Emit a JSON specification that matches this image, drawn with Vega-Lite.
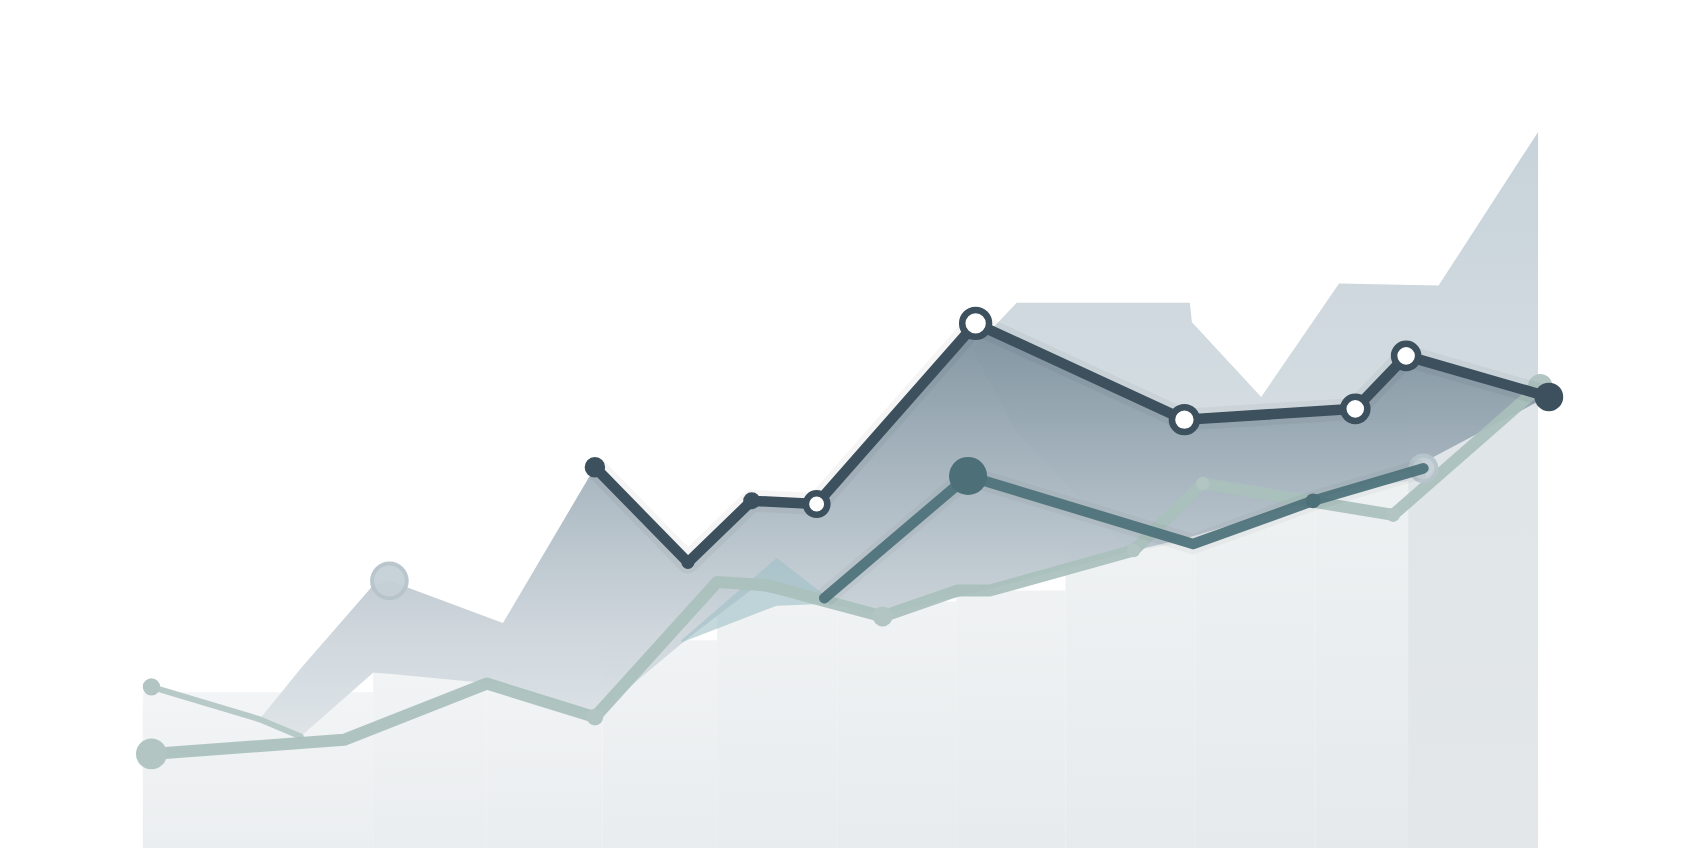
{
  "$schema": "https://vega.github.io/schema/vega-lite/v6.json",
  "width": 1696,
  "height": 848,
  "autosize": {"type": "fit", "contains": "padding"},
  "padding": 0,
  "background": "#ffffff",
  "config": {"view": {"stroke": null}, "axis": {"disable": true}},
  "datasets": {
    "bars": [
      {"x0": 132, "x1": 345, "top": 640},
      {"x0": 345, "x1": 450, "top": 622},
      {"x0": 450, "x1": 557, "top": 632},
      {"x0": 557, "x1": 663, "top": 592},
      {"x0": 663, "x1": 774, "top": 540},
      {"x0": 774, "x1": 884, "top": 556},
      {"x0": 884, "x1": 985, "top": 546},
      {"x0": 985, "x1": 1105, "top": 500},
      {"x0": 1105, "x1": 1216, "top": 450},
      {"x0": 1216, "x1": 1317, "top": 440},
      {"x0": 1317, "x1": 1420, "top": 360}
    ],
    "mountain": [
      {"x": 900, "y": 322, "base": 326},
      {"x": 940, "y": 280, "base": 400},
      {"x": 1045, "y": 280, "base": 510},
      {"x": 1100, "y": 280, "base": 500},
      {"x": 1102, "y": 298, "base": 500},
      {"x": 1166, "y": 367, "base": 470},
      {"x": 1238, "y": 262, "base": 455},
      {"x": 1330, "y": 264, "base": 440},
      {"x": 1422, "y": 122, "base": 360}
    ],
    "lightbar": [{"x0": 1302, "x1": 1422, "top": 359}],
    "band": [
      {"x": 240, "top": 665, "bottom": 667},
      {"x": 278, "top": 618, "bottom": 681},
      {"x": 345, "top": 541, "bottom": 622},
      {"x": 360, "top": 537, "bottom": 623},
      {"x": 465, "top": 576, "bottom": 633},
      {"x": 550, "top": 432, "bottom": 662},
      {"x": 636, "top": 520, "bottom": 590},
      {"x": 695, "top": 463, "bottom": 545},
      {"x": 755, "top": 465, "bottom": 556},
      {"x": 816, "top": 397, "bottom": 568},
      {"x": 902, "top": 299, "bottom": 548},
      {"x": 1048, "top": 367, "bottom": 509},
      {"x": 1095, "top": 388, "bottom": 498},
      {"x": 1214, "top": 380, "bottom": 463},
      {"x": 1253, "top": 378, "bottom": 450},
      {"x": 1300, "top": 329, "bottom": 436},
      {"x": 1428, "top": 365, "bottom": 368}
    ],
    "tri": [
      {"x": 630, "top": 592, "bottom": 594},
      {"x": 718, "top": 516, "bottom": 560},
      {"x": 770, "top": 556, "bottom": 558}
    ],
    "thin": [
      {"x": 140, "y": 635},
      {"x": 240, "y": 665},
      {"x": 278, "y": 681}
    ],
    "sage": [
      {"x": 140, "y": 697},
      {"x": 318, "y": 684},
      {"x": 450, "y": 632},
      {"x": 550, "y": 663},
      {"x": 663, "y": 538},
      {"x": 709, "y": 541},
      {"x": 764, "y": 556},
      {"x": 816, "y": 570},
      {"x": 885, "y": 546},
      {"x": 915, "y": 546},
      {"x": 1048, "y": 509},
      {"x": 1112, "y": 447},
      {"x": 1288, "y": 476},
      {"x": 1424, "y": 357}
    ],
    "sagedots": [
      {"x": 140, "y": 697, "s": 950},
      {"x": 140, "y": 635, "s": 300},
      {"x": 550, "y": 663, "s": 280},
      {"x": 816, "y": 570, "s": 400},
      {"x": 1048, "y": 509, "s": 180},
      {"x": 1112, "y": 447, "s": 180},
      {"x": 1288, "y": 476, "s": 200},
      {"x": 1424, "y": 357, "s": 600}
    ],
    "faded": [
      {"x": 360, "y": 537, "s": 1200},
      {"x": 1316, "y": 433, "s": 660}
    ],
    "teal": [
      {"x": 762, "y": 553},
      {"x": 895, "y": 440},
      {"x": 1103, "y": 503},
      {"x": 1214, "y": 463},
      {"x": 1316, "y": 433}
    ],
    "tealdots": [
      {"x": 895, "y": 440, "s": 1450},
      {"x": 1214, "y": 463, "s": 220}
    ],
    "dark": [
      {"x": 550, "y": 432},
      {"x": 636, "y": 520},
      {"x": 695, "y": 463},
      {"x": 755, "y": 466},
      {"x": 902, "y": 299},
      {"x": 1095, "y": 388},
      {"x": 1253, "y": 378},
      {"x": 1300, "y": 329},
      {"x": 1432, "y": 367}
    ],
    "darkfilled": [
      {"x": 550, "y": 432, "s": 420},
      {"x": 636, "y": 520, "s": 170},
      {"x": 695, "y": 463, "s": 290},
      {"x": 1432, "y": 367, "s": 820}
    ],
    "darkopen": [
      {"x": 755, "y": 466, "s": 460},
      {"x": 902, "y": 299, "s": 720},
      {"x": 1095, "y": 388, "s": 620},
      {"x": 1253, "y": 378, "s": 580},
      {"x": 1300, "y": 329, "s": 580}
    ]
  },
  "layer": [
    {
      "data": {"name": "bars"},
      "mark": {"type": "rect", "fill": {"gradient": "linear", "x1": 0, "y1": 0, "x2": 0, "y2": 1, "stops": [{"offset": 0, "color": "#eef1f2"}, {"offset": 1, "color": "#e5e9eb"}]}},
      "encoding": {
        "x": {"field": "x0", "type": "quantitative", "scale": {"domain": [0, 1568], "nice": false, "zero": false}, "axis": null},
        "x2": {"field": "x1"},
        "y": {"field": "top", "type": "quantitative", "scale": {"domain": [0, 784], "reverse": true, "nice": false, "zero": false}, "axis": null},
        "y2": {"datum": 784},
        "opacity": {"field": "x0", "type": "quantitative", "scale": {"domain": [132, 1317], "range": [0.75, 1]}, "legend": null}
      }
    },
    {
      "data": {"name": "mountain"},
      "mark": {"type": "area", "fill": {"gradient": "linear", "x1": 0, "y1": 0, "x2": 0, "y2": 1, "stops": [{"offset": 0, "color": "#c7d3da"}, {"offset": 0.6, "color": "#d2dbe0"}, {"offset": 1, "color": "#e2e7ea"}]}},
      "encoding": {
        "x": {"field": "x", "type": "quantitative"},
        "y": {"field": "y", "type": "quantitative"},
        "y2": {"field": "base"}
      }
    },
    {
      "data": {"name": "lightbar"},
      "mark": {"type": "rect", "fill": {"gradient": "linear", "x1": 0, "y1": 0, "x2": 0, "y2": 1, "stops": [{"offset": 0, "color": "#dfe5e8"}, {"offset": 1, "color": "#e3e7e9"}]}},
      "encoding": {
        "x": {"field": "x0", "type": "quantitative"},
        "x2": {"field": "x1"},
        "y": {"field": "top", "type": "quantitative"},
        "y2": {"datum": 784}
      }
    },
    {
      "data": {"name": "band"},
      "mark": {"type": "area", "opacity": 0.95, "fill": {"gradient": "linear", "x1": 0, "y1": 0, "x2": 0, "y2": 1, "stops": [{"offset": 0, "color": "#7c909d"}, {"offset": 0.45, "color": "#aebbc4"}, {"offset": 0.75, "color": "#cdd5db"}, {"offset": 1, "color": "#dde3e7"}]}},
      "encoding": {
        "x": {"field": "x", "type": "quantitative"},
        "y": {"field": "top", "type": "quantitative"},
        "y2": {"field": "bottom"}
      }
    },
    {
      "data": {"name": "tri"},
      "mark": {"type": "area", "fill": "#9ec0c6", "opacity": 0.6},
      "encoding": {
        "x": {"field": "x", "type": "quantitative"},
        "y": {"field": "top", "type": "quantitative"},
        "y2": {"field": "bottom"}
      }
    },
    {
      "data": {"name": "thin"},
      "mark": {"type": "line", "stroke": "#b8cac7", "strokeWidth": 6, "strokeCap": "round"},
      "encoding": {
        "x": {"field": "x", "type": "quantitative"},
        "y": {"field": "y", "type": "quantitative"}
      }
    },
    {
      "data": {"name": "sage"},
      "mark": {"type": "line", "stroke": "#a9c0bc", "strokeWidth": 12, "strokeJoin": "round", "strokeCap": "round", "opacity": 0.92},
      "encoding": {
        "x": {"field": "x", "type": "quantitative"},
        "y": {"field": "y", "type": "quantitative"}
      }
    },
    {
      "data": {"name": "sagedots"},
      "mark": {"type": "point", "shape": "circle", "filled": true, "fill": "#b2c5c2", "opacity": 1, "strokeWidth": 0},
      "encoding": {
        "x": {"field": "x", "type": "quantitative"},
        "y": {"field": "y", "type": "quantitative"},
        "size": {"field": "s", "type": "quantitative", "scale": {"type": "linear", "domain": [0, 1000], "range": [0, 1000]}, "legend": null}
      }
    },
    {
      "data": {"name": "faded"},
      "mark": {"type": "point", "shape": "circle", "filled": true, "fill": "#c6d0d7", "stroke": "#b7c4cc", "strokeWidth": 4, "opacity": 0.95},
      "encoding": {
        "x": {"field": "x", "type": "quantitative"},
        "y": {"field": "y", "type": "quantitative"},
        "size": {"field": "s", "type": "quantitative", "scale": {"type": "linear", "domain": [0, 1000], "range": [0, 1000]}, "legend": null}
      }
    },
    {
      "data": {"name": "teal"},
      "mark": {"type": "line", "stroke": "#000000", "strokeWidth": 20, "strokeJoin": "round", "opacity": 0.03},
      "encoding": {
        "x": {"field": "x", "type": "quantitative"},
        "y": {"field": "y", "type": "quantitative"}
      }
    },
    {
      "data": {"name": "teal"},
      "mark": {"type": "line", "stroke": "#4f737b", "strokeWidth": 10.5, "strokeJoin": "round", "strokeCap": "round", "opacity": 0.95},
      "encoding": {
        "x": {"field": "x", "type": "quantitative"},
        "y": {"field": "y", "type": "quantitative"}
      }
    },
    {
      "data": {"name": "tealdots"},
      "mark": {"type": "point", "shape": "circle", "filled": true, "fill": "#4c6f78", "opacity": 1, "strokeWidth": 0},
      "encoding": {
        "x": {"field": "x", "type": "quantitative"},
        "y": {"field": "y", "type": "quantitative"},
        "size": {"field": "s", "type": "quantitative", "scale": {"type": "linear", "domain": [0, 1000], "range": [0, 1000]}, "legend": null}
      }
    },
    {
      "data": {"name": "dark"},
      "mark": {"type": "line", "stroke": "#000000", "strokeWidth": 22, "strokeJoin": "round", "opacity": 0.04},
      "encoding": {
        "x": {"field": "x", "type": "quantitative"},
        "y": {"field": "y", "type": "quantitative"}
      }
    },
    {
      "data": {"name": "dark"},
      "mark": {"type": "line", "stroke": "#3c505d", "strokeWidth": 10.5, "strokeJoin": "round", "strokeCap": "round"},
      "encoding": {
        "x": {"field": "x", "type": "quantitative"},
        "y": {"field": "y", "type": "quantitative"}
      }
    },
    {
      "data": {"name": "darkfilled"},
      "mark": {"type": "point", "shape": "circle", "filled": true, "fill": "#3c505d", "opacity": 1, "strokeWidth": 0},
      "encoding": {
        "x": {"field": "x", "type": "quantitative"},
        "y": {"field": "y", "type": "quantitative"},
        "size": {"field": "s", "type": "quantitative", "scale": {"type": "linear", "domain": [0, 1000], "range": [0, 1000]}, "legend": null}
      }
    },
    {
      "data": {"name": "darkopen"},
      "mark": {"type": "point", "shape": "circle", "filled": true, "fill": "#ffffff", "stroke": "#3c505d", "strokeWidth": 6.5, "opacity": 1},
      "encoding": {
        "x": {"field": "x", "type": "quantitative"},
        "y": {"field": "y", "type": "quantitative"},
        "size": {"field": "s", "type": "quantitative", "scale": {"type": "linear", "domain": [0, 1000], "range": [0, 1000]}, "legend": null}
      }
    }
  ]
}
